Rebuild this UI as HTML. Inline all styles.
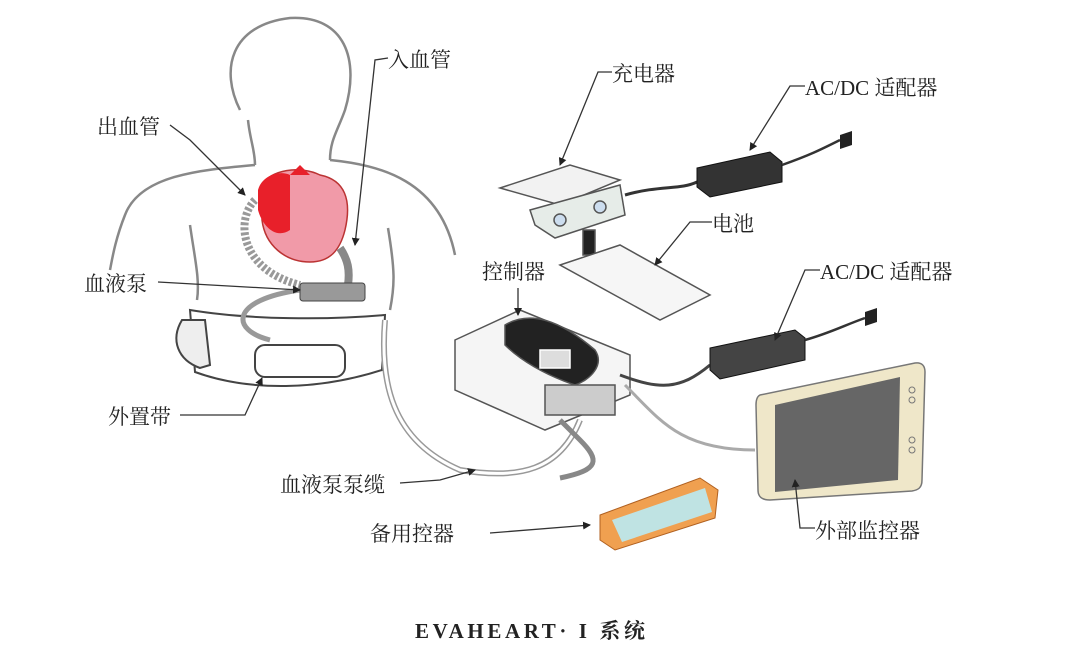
<!DOCTYPE html>
<html><head><meta charset="utf-8"><style>
html,body{margin:0;padding:0;background:#fff;}
svg{display:block;}
text{font-family:"Liberation Serif","Noto Serif CJK SC",serif;font-size:21px;fill:#222;}
</style></head><body>
<svg width="1080" height="664" viewBox="0 0 1080 664" xmlns="http://www.w3.org/2000/svg">
<defs><marker id="a" markerWidth="8" markerHeight="8" refX="7" refY="4" orient="auto" markerUnits="userSpaceOnUse"><path d="M0 0 L8 4 L0 8 Z" fill="#222"/></marker></defs>
<g fill="none" stroke="#888" stroke-width="2.5">
<path d="M240 110 C220 70 230 25 290 18 C345 15 360 60 345 110 C338 130 330 140 330 160"/>
<path d="M248 120 C250 140 255 150 255 165"/>
<path d="M255 165 C200 170 140 175 125 215 C115 240 112 260 110 270"/>
<path d="M330 160 C380 165 440 180 455 255"/>
<path d="M190 225 C195 260 200 280 197 300"/>
<path d="M388 228 C395 270 395 285 390 310"/>
</g>
<g stroke="#444" stroke-width="2" fill="#fff">
<path d="M190 310 C250 320 330 320 385 315 L382 370 C320 390 250 392 195 372 Z"/>
<path d="M182 320 C170 340 178 360 200 368 L210 365 L205 320 Z" fill="#eee"/>
<rect x="255" y="345" width="90" height="32" rx="10" fill="#fff"/>
</g>
<path d="M300 290 C230 300 230 330 270 340" fill="none" stroke="#999" stroke-width="5"/>
<path d="M385 320 C380 380 390 440 460 470 C520 480 560 470 580 420" fill="none" stroke="#999" stroke-width="6"/>
<path d="M385 320 C380 380 390 440 460 470 C520 480 560 470 580 420" fill="none" stroke="#fff" stroke-width="3"/>
<path d="M262 185 C270 170 300 165 320 175 C345 180 352 200 345 230 C340 250 330 262 310 262 C285 262 265 245 262 220 Z" fill="#f19aa8" stroke="#b33" stroke-width="1.5"/>
<path d="M258 190 C262 175 280 170 290 175 L290 230 C275 240 262 225 258 210 Z" fill="#e8202a"/>
<path d="M290 175 L300 165 L310 175" fill="#e8202a"/>
<path d="M255 200 C235 220 240 270 300 285" fill="none" stroke="#999" stroke-width="8" stroke-dasharray="3 2"/>
<path d="M340 248 C348 260 350 270 348 285" fill="none" stroke="#888" stroke-width="8"/>
<rect x="300" y="283" width="65" height="18" rx="3" fill="#999" stroke="#444"/>
<g stroke="#555" stroke-width="1.5">
<path d="M500 188 L570 165 L620 180 L560 205 Z" fill="#f2f2f2"/>
<path d="M530 210 L620 185 L625 215 L555 238 L535 225 Z" fill="#e6ece8"/>
<circle cx="560" cy="220" r="6" fill="#cde"/><circle cx="600" cy="207" r="6" fill="#cde"/>
<rect x="583" y="230" width="12" height="25" fill="#222"/>
</g>
<path d="M625 195 C660 185 680 190 697 182" fill="none" stroke="#333" stroke-width="3"/>
<path d="M697 168 L770 152 L782 162 L782 182 L710 197 L697 187 Z" fill="#333" stroke="#111"/>
<path d="M782 165 C810 155 820 150 840 140" fill="none" stroke="#333" stroke-width="2.5"/>
<path d="M840 135 l12 -4 v14 l-12 4 z" fill="#222"/>
<path d="M560 265 L620 245 L710 295 L660 320 Z" fill="#f6f6f6" stroke="#555" stroke-width="1.5"/>
<g stroke="#555" stroke-width="1.5">
<path d="M455 340 L520 310 L630 355 L630 395 L545 430 L455 390 Z" fill="#f5f5f5"/>
<path d="M505 325 C530 310 560 320 595 350 C605 365 590 380 575 385 C545 375 520 360 505 345 Z" fill="#222"/>
<rect x="540" y="350" width="30" height="18" fill="#ddd" stroke="#fff"/>
<rect x="545" y="385" width="70" height="30" fill="#ccc"/>
</g>
<path d="M560 420 L580 440 C600 460 600 470 560 478" fill="none" stroke="#888" stroke-width="5"/>
<path d="M620 375 C660 390 680 390 710 365" fill="none" stroke="#444" stroke-width="3"/>
<path d="M625 385 C660 420 680 450 755 450" fill="none" stroke="#aaa" stroke-width="3"/>
<path d="M710 348 L795 330 L805 338 L805 360 L720 379 L710 370 Z" fill="#444" stroke="#111"/>
<path d="M805 340 C830 333 845 325 865 318" fill="none" stroke="#333" stroke-width="2.5"/>
<path d="M865 312 l12 -4 v14 l-12 4 z" fill="#222"/>
<path d="M760 395 L915 363 C922 362 925 366 925 372 L922 480 C922 488 918 490 912 491 L770 500 C762 500 758 497 758 490 L756 405 C756 399 758 396 760 395 Z" fill="#efe7c9" stroke="#777" stroke-width="1.5"/>
<path d="M775 405 L900 377 L898 480 L775 492 Z" fill="#666"/>
<g fill="#efe7c9" stroke="#777"><circle cx="912" cy="390" r="3"/><circle cx="912" cy="400" r="3"/><circle cx="912" cy="440" r="3"/><circle cx="912" cy="450" r="3"/></g>
<path d="M600 515 L700 478 L718 490 L715 518 L615 550 L600 540 Z" fill="#f0a050" stroke="#b06020"/>
<path d="M612 520 L705 488 L712 512 L622 542 Z" fill="#bfe3e3"/>
<g fill="none" stroke="#333" stroke-width="1.3" marker-end="url(#a)">
<path d="M170 125 L190 140 L245 195"/>
<path d="M388 58 L375 60 L355 245"/>
<path d="M158 282 L300 290"/>
<path d="M180 415 L245 415 L262 378"/>
<path d="M400 483 L440 480 L475 470"/>
<path d="M490 533 L590 525"/>
<path d="M612 72 L598 72 L560 165"/>
<path d="M805 86 L790 86 L750 150"/>
<path d="M712 222 L690 222 L655 265"/>
<path d="M518 288 L518 315"/>
<path d="M820 270 L805 270 L775 340"/>
<path d="M815 528 L800 528 L795 480"/>
</g>
<text x="388" y="67">入血管</text>
<text x="97" y="134">出血管</text>
<text x="84" y="291">血液泵</text>
<text x="108" y="424">外置带</text>
<text x="280" y="492">血液泵泵缆</text>
<text x="370" y="541">备用控器</text>
<text x="612" y="81">充电器</text>
<text x="805" y="95">AC/DC 适配器</text>
<text x="712" y="231">电池</text>
<text x="482" y="279">控制器</text>
<text x="820" y="279">AC/DC 适配器</text>
<text x="815" y="538">外部监控器</text>
<text x="415" y="638" textLength="230" style="font-size:21px;font-weight:bold">EVAHEART· I 系统</text>
</svg>
</body></html>
